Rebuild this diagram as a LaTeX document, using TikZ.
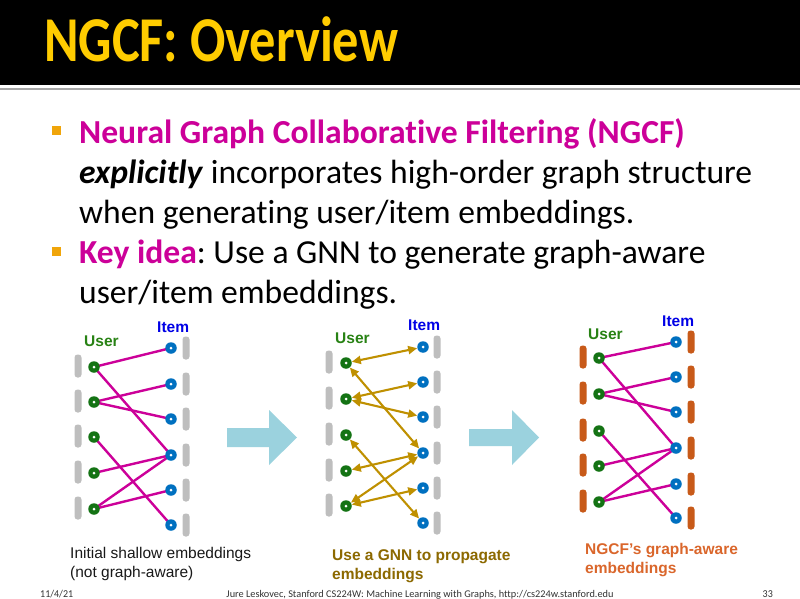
\documentclass[tikz,border=0pt]{standalone}
\usepackage{fontspec}
\setmainfont{Carlito}[Ligatures=NoCommon]
\newfontfamily\arialf{Liberation Sans}
\usetikzlibrary{arrows.meta}
\definecolor{titleyellow}{RGB}{255,204,0}
\definecolor{ngmag}{RGB}{204,0,153}
\definecolor{bulletorange}{RGB}{240,165,10}
\definecolor{usergreen}{RGB}{20,115,20}
\definecolor{userlabel}{RGB}{40,130,20}
\definecolor{itemblue}{RGB}{0,112,192}
\definecolor{itemlabel}{RGB}{0,0,230}
\definecolor{bargray}{RGB}{190,190,190}
\definecolor{barorange}{RGB}{200,90,25}
\definecolor{gnngold}{RGB}{191,144,0}
\definecolor{capgold}{RGB}{140,105,0}
\definecolor{caporange}{RGB}{218,102,43}
\definecolor{arrowblue}{RGB}{155,210,222}
\pgfdeclarelayer{bg}
\pgfdeclarelayer{edgelayer}
\pgfsetlayers{bg,edgelayer,main}
\frenchspacing
\tikzset{
  body/.style={anchor=base west, inner sep=0pt, font=\fontsize{33.6}{40}\selectfont},
  captext/.style={anchor=base west, inner sep=0pt, font=\arialf\fontsize{15.5}{18}\selectfont},
  captextb/.style={anchor=base west, inner sep=0pt, font=\arialf\bfseries\fontsize{15.5}{18}\selectfont},
  lab/.style={anchor=base west, inner sep=0pt, font=\arialf\bfseries\fontsize{15.5}{18}\selectfont},
  foot/.style={inner sep=0pt, text=black!80, font=\fontsize{10.5}{12}\selectfont},
  udot/.style={circle, fill=usergreen, minimum size=11.5pt, inner sep=0pt,
    path picture={\fill[white] (path picture bounding box.center) circle (1.5pt);}},
  idot/.style={circle, fill=itemblue, minimum size=11.5pt, inner sep=0pt,
    path picture={\fill[white] (path picture bounding box.center) circle (1.5pt);}},
  ebar/.style={rectangle, rounded corners=3pt, minimum width=7pt, minimum height=23pt, inner sep=0pt},
  pinkedge/.style={draw=ngmag, line width=2.4pt},
  goldedge/.style={draw=gnngold, line width=2.1pt, {Triangle[length=9pt,width=8pt]}-{Triangle[length=9pt,width=8pt]}},
  bigarrow/.style={fill=arrowblue}
}
\begin{document}
\begin{tikzpicture}[x=1pt,y=-1pt]
\useasboundingbox (0,0) rectangle (800,599);
\begin{pgfonlayer}{bg}
\fill[white] (0,0) rectangle (800,599);
\end{pgfonlayer}
\fill[black] (0,0) rectangle (800,85);
\fill[black!35] (0,88) rectangle (800,90.5);
\node[anchor=base west, inner sep=0pt, text=titleyellow, font=\bfseries\fontsize{63}{63}\selectfont] (title) at (44,62) {\resizebox{354pt}{!}{\scalebox{0.82}[1]{NGCF: Overview}}};
% bullets
\fill[bulletorange] (52,126.5) rectangle (61,135.5);
\fill[bulletorange] (52,246.5) rectangle (61,255.5);
\node[body] (l1) at (79,143) {\textbf{\color{ngmag}Neural Graph Collaborative Filtering (NGCF)}};
\node[body] (l2) at (79,183) {\textbf{\textit{explicitly}} incorporates high-order graph structure};
\node[body] (l3) at (79,223) {when generating user/item embeddings.};
\node[body] (l4) at (79,263) {\textbf{\color{ngmag}Key idea}: Use a GNN to generate graph-aware};
\node[body] (l5) at (79,303) {user/item embeddings.};
% panels: p / ux / ix / left bar x / right bar x / bar color / user ys / item ys
\foreach \p/\ux/\ix/\lb/\rb/\bc/\uys/\iys in {
  1/94/171/78/186/bargray/{367,402,437,473,509}/{348,384,419,455,490,525},
  2/346/423/329/437/bargray/{363,399,435,471,506}/{347,382,417,453,488,523},
  3/599/676/583/691/barorange/{358,394,431,466,502}/{342,377,412,448,484,518}}{
  \foreach \y [count=\k] in \uys {
    \node[ebar, fill=\bc] (lb\p\k) at (\lb,\y-1) {};
    \node[udot] (u\p\k) at (\ux,\y) {};
  }
  \foreach \y [count=\k] in \iys {
    \node[ebar, fill=\bc] (rb\p\k) at (\rb,\y) {};
    \node[idot] (i\p\k) at (\ix,\y) {};
  }
}
% labels
\node[lab, text=userlabel] (user1) at (84,346) {User};
\node[lab, text=itemlabel] (item1) at (157,332) {Item};
\node[lab, text=userlabel] (user2) at (335,343) {User};
\node[lab, text=itemlabel] (item2) at (408,330) {Item};
\node[lab, text=userlabel] (user3) at (588,339) {User};
\node[lab, text=itemlabel] (item3) at (662,326) {Item};
% edges
\begin{pgfonlayer}{edgelayer}
\foreach \p in {1,3}{
  \foreach \a/\b in {1/1,1/4,2/2,2/3,3/6,4/4,5/4,5/5}{
    \draw[pinkedge] (u\p\a.center) -- (i\p\b.center);
  }
}
\end{pgfonlayer}
\foreach \a/\b in {1/1,1/4,2/2,2/3,3/6,4/4,5/4,5/5}{
  \draw[goldedge] (u2\a) -- (i2\b);
}
% big arrows
\fill[bigarrow] (227,428) -- (269,428) -- (269,410) -- (297,437.5) -- (269,465) -- (269,447) -- (227,447) -- cycle;
\fill[bigarrow] (469,429) -- (512,429) -- (512,410) -- (539,437.5) -- (512,465) -- (512,446) -- (469,446) -- cycle;
% captions
\node[captext, text=black!90] (c1a) at (70,558) {Initial shallow embeddings};
\node[captext, text=black!90] (c1b) at (70,577) {(not graph-aware)};
\node[captextb, text=capgold] (c2a) at (332,560) {Use a GNN to propagate};
\node[captextb, text=capgold] (c2b) at (332,579) {embeddings};
\node[captextb, text=caporange] (c3a) at (585,554) {NGCF’s graph-aware};
\node[captextb, text=caporange] (c3b) at (585,573) {embeddings};
% footer
\node[foot, anchor=base west] (f1) at (40,597) {\scalebox{0.95}[1]{11/4/21}};
\node[foot, anchor=base] (f2) at (420,597) {\resizebox{387pt}{!}{Jure Leskovec, Stanford CS224W: Machine Learning with Graphs, http://cs224w.stanford.edu}};
\node[foot, anchor=base east] (f3) at (773,597) {\scalebox{0.95}[1]{33}};
\end{tikzpicture}
\end{document}
